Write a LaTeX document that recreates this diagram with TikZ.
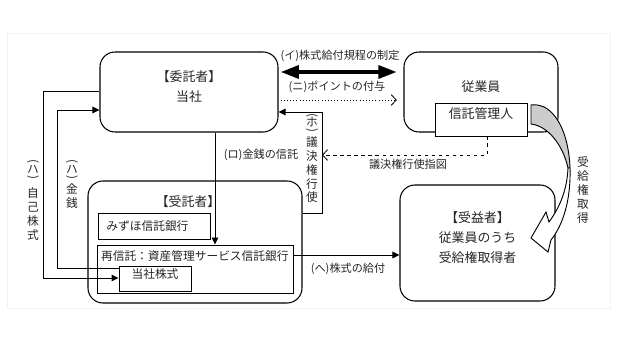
\documentclass[tikz,border=0pt]{standalone}
\usepackage{fontspec}
\setmainfont{Noto Sans CJK JP}
\usepackage{graphicx}
\usepackage{tikz}
\usetikzlibrary{arrows.meta,fit,positioning}
\newcommand{\vparen}[1]{\rotatebox[origin=c]{-90}{#1}}

\begin{document}
\begin{tikzpicture}[x=0.3mm,y=-0.3mm,
    rbox/.style={draw,line width=0.9pt,rounded corners=4.5mm,inner sep=0pt,align=center,text=black!85},
    sbox/.style={draw,line width=0.8pt,inner sep=0pt,text=black!85},
    ttl/.style={font=\fontsize{11}{17}\selectfont},
    inn/.style={font=\fontsize{10}{12}\selectfont},
    lbl/.style={inner sep=0pt,text=black!85,font=\fontsize{9.5}{11}\selectfont},
    vlbl/.style={inner sep=0pt,align=center,text=black!85,font=\fontsize{10}{11.8}\selectfont},
    arr/.style={line width=0.8pt,-{Triangle[length=2.1mm,width=2mm]}},
    barb/.style={line width=0.7pt,-{Straight Barb[length=1.5mm,width=3.2mm]}}]
  \useasboundingbox (0,0) rectangle (617,343);
  \draw[gray!10] (7,33) rectangle (610,308);
  % boxes
  \node[rbox,ttl,fit={(100,52)(278,132)}] (itakusha) {【委託者】\\当社};
  \node[rbox,ttl,fit={(404,52)(558,132)}] (jugyoin) {従業員};
  \node[sbox,ttl,fill=white,fit={(435,103)(527,136)}] (kanri) {信託管理人};
  \node[rbox,fit={(88,181)(302,303)}] (jutaku) {};
  \node[ttl,inner sep=0pt,text=black!85] (jutaku-t) at (188,202) {【受託者】};
  \node[sbox,fit={(98,213)(210,239)}] (mizuho) {};
  \node[inn,inner sep=0pt,text=black!85,anchor=west] (mizuho-t) at ([xshift=2.6mm]mizuho.west) {みずほ信託銀行};
  \node[sbox,fit={(97,245)(293,293)}] (saishin) {};
  \node[inn,inner sep=0pt,text=black!85,anchor=west] (saishin-t) at ([shift={(1.3mm,-3.6mm)}]saishin.north west) {再信託：資産管理サービス信託銀行};
  \node[sbox,inn,fill=white,fit={(119,266)(191,291)}] (kabu) {当社株式};
  \node[rbox,ttl,fit={(400,185)(555,301)}] (jueki) {【受益者】\\従業員のうち\\受給権取得者};
  % bend points
  \coordinate (ho-b) at (322,213);
  \coordinate (ho-t) at (322,112);
  % top connectors
  \draw[line width=1.2mm,shorten <=0.6mm,shorten >=2mm,{Triangle[length=5.5mm,width=3.8mm]}-{Triangle[length=5.5mm,width=3.8mm]}] (itakusha.east |- 0,72) -- (jugyoin.west |- 0,72);
  \node[lbl] (l-i) at (340,56) {(イ)株式給付規程の制定};
  \draw[barb,dotted,shorten <=0.6mm,shorten >=2mm] (itakusha.east |- 0,100) -- (jugyoin.west |- 0,100);
  \node[lbl] (l-ni) at (337,87) {(ニ)ポイントの付与};
  % voting
  \draw[arr] (jutaku.east |- ho-b) -- (ho-b) -- (ho-t) -- (itakusha.east |- ho-t);
  \node[vlbl] (l-ho) at (312,158) {\vparen{(}\\[-5.5pt]ホ\\[-5pt]\vparen{)}\\[-1pt]議\\決\\権\\行\\使};
  \draw[barb,dashed] ([xshift=1.8mm]kanri.south) |- (ho-t |- 0,155);
  \node[lbl] (l-shizu) at (408,164) {議決権行使指図};
  % trust of money
  \draw[arr] (itakusha.south -| 215,0) -- (saishin.north -| 215,0);
  \node[lbl] (l-ro) at (261,155) {(ロ)金銭の信託};
  % delivery of shares
  \draw[arr] (saishin.east |- 0,255) -- (jueki.west |- 0,255);
  \node[lbl] (l-he) at (348,269) {(へ)株式の給付};
  % left loops
  \draw[arr] (itakusha.west |- 0,91) -| (43,278) -- (kabu.west |- 0,278);
  \node[vlbl] (l-ha1) at (33,200) {\vparen{(}\\[-5pt]ハ\\[-5pt]\vparen{)}\\[2pt]自\\己\\株\\式};
  \draw[arr] (kabu.west |- 0,268) -| (57,110) -- (itakusha.west |- 0,110);
  \node[vlbl] (l-ha2) at (72,184) {\vparen{(}\\[-5pt]ハ\\[-5pt]\vparen{)}\\[-1pt]金\\銭};
  % curved arrow
  \filldraw[fill=gray!40,line width=0.8pt] (531,105) .. controls (537,104) and (541,106) .. (544,107) .. controls (560,115) and (569,140) .. (570,168) -- (568,168) .. controls (563,145) and (548,126) .. (531,124) -- cycle;
  \filldraw[fill=white,line width=0.8pt] (568,168) .. controls (567,190) and (560,207) .. (549,222) -- (546,212) -- (531,238) -- (548,252) -- (551,240) .. controls (563,225) and (571,200) .. (570,168) -- cycle;
  \node[vlbl] (l-ken) at (583,190) {受\\給\\権\\取\\得};
\end{tikzpicture}
\end{document}
